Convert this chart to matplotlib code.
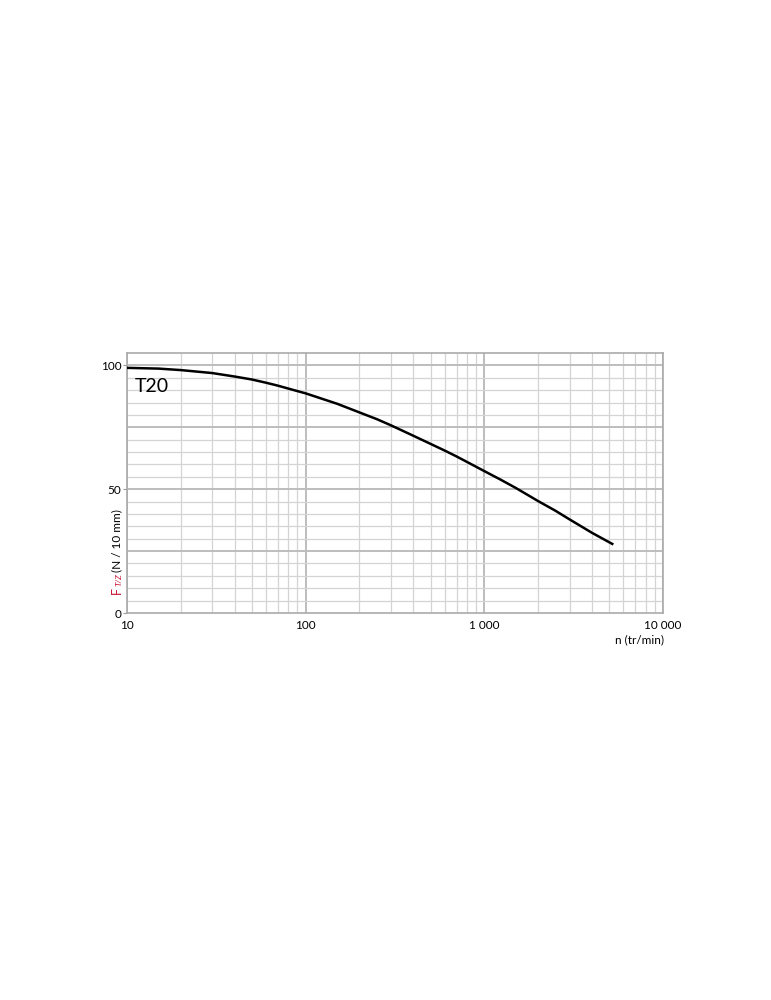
import matplotlib
matplotlib.use("Agg")
import matplotlib.pyplot as plt
import numpy as np

plt.rcParams['font.family'] = ['Lato', 'DejaVu Sans']

# curve: speed (tr/min) vs force (N / 10 mm)
speed = [10, 15, 20, 30, 40, 50, 60, 70, 85, 100, 150, 200, 250, 300, 400, 500, 600, 700, 800,
         1000, 1230, 1500, 2000, 2500, 3000, 4000, 5200]
force = [99.0, 98.7, 98.1, 96.9, 95.5, 94.3, 93.0, 91.8, 90.1, 88.7, 84.5, 81.0, 78.3, 75.8, 71.6,
         68.3, 65.6, 63.2, 61.0, 57.3, 53.9, 50.5, 45.2, 41.3, 37.8, 32.4, 27.9]

xticks = [10, 100, 1000, 10000]
xlabels = ['10', '100', '1 000', '10 000']
yticks = [0, 50, 100]

fig = plt.figure(figsize=(7.71, 10), dpi=100)
ax = fig.add_axes([127/771, 1-613/1000, (663-127)/771, (613-353)/1000])

ax.set_xscale('log')
ax.set_xlim(10, 10000)
ax.set_ylim(0, 105)

# grid
minor_x = [m*10**e for e in range(1, 4) for m in range(2, 10)]
for v in minor_x:
    ax.axvline(v, color='#d4d4d4', lw=0.9, zorder=0)
for v in xticks:
    ax.axvline(v, color='#bdbdbd', lw=1.4, zorder=0)
for v in np.arange(5, 105, 5):
    if v % 25 == 0:
        ax.axhline(v, color='#bdbdbd', lw=1.4, zorder=0)
    else:
        ax.axhline(v, color='#d4d4d4', lw=0.9, zorder=0)

ax.plot(speed, force, color='black', lw=1.8, zorder=3, solid_joinstyle='round')

ax.set_xticks(xticks)
ax.set_xticklabels(xlabels)
ax.set_xticks([], minor=True)
ax.set_yticks(yticks)
ax.tick_params(axis='both', length=3, color='#999999', labelsize=8.5, pad=1)
ax.tick_params(axis='x', length=0, pad=5)

for s in ax.spines.values():
    s.set_color('#aaaaaa')
    s.set_linewidth(1.2)

ax.text(0.014, 0.87, 'T20', transform=ax.transAxes, fontsize=14, va='center', ha='left')

fig.text(664/771, 1-640/1000, 'n (tr/min)', fontsize=8.5, ha='right', va='center')

# y label: red F with subscript, then black unit
lx = 117/771
fig.text(lx, 1-591/1000, 'F', color='#c8102e', fontsize=9, rotation=90, ha='center', va='center')
fig.text(lx+0.002, 1-580/1000, 'T/Z', color='#c8102e', fontsize=6, style='italic', rotation=90, ha='center', va='center')
fig.text(lx, 1-572/1000, '(N / 10 mm)', fontsize=8.5, rotation=90, ha='center', va='bottom')

fig.savefig('out.png', dpi=100)
